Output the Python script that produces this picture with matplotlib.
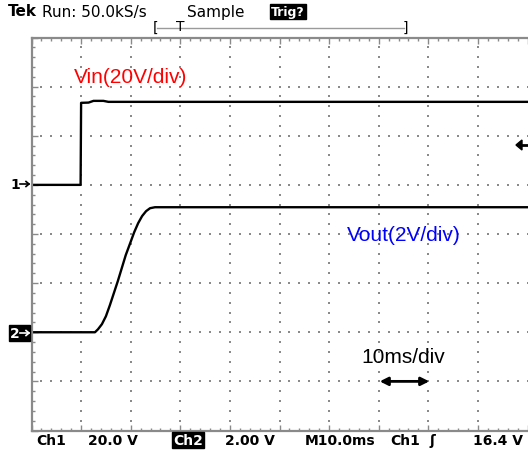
import numpy as np
import matplotlib
matplotlib.use("Agg")
import matplotlib.pyplot as plt

# scope settings
ch1_scale = 20.0   # V/div
ch2_scale = 2.0    # V/div
ch1_offset = 1.0   # div above centre
ch2_offset = -2.0  # div below centre
time_per_div = 10.0  # ms/div

# Vin (ch1) trace, ms / V
t_vin = [0.0, 9.9, 10.0, 11.5, 12.5, 14.5, 15.5, 100.0]
v_vin = [0.0, 0.0, 33.4, 33.5, 34.2, 34.2, 33.8, 33.8]

# Vout (ch2) trace, ms / V
t_vout = [0.0, 12.8, 13.4, 14.2, 15.0, 15.8, 16.6, 17.4, 18.2, 19.0, 19.9,
          20.7, 21.5, 22.3, 23.1, 23.9, 24.9, 100.0]
v_vout = [0.0, 0.0, 0.12, 0.33, 0.65, 1.10, 1.59, 2.08, 2.61, 3.14, 3.63,
          4.07, 4.44, 4.73, 4.93, 5.05, 5.09, 5.09]

W, H = 528, 452
def fx(x):
    return x / W
def fy(y):
    return 1 - y / H

fig = plt.figure(figsize=(W / 100, H / 100), dpi=100)
ax = fig.add_axes([fx(31.5), fy(431.5), 496 / W, 393 / H])
ax.set_xlim(0, 10 * time_per_div)
ax.set_ylim(-4, 4)

grey = "#8a8a8a"
# dotted graticule
for k in range(1, 10):
    yy = np.arange(-4, 4.01, 0.2)
    ax.scatter(np.full_like(yy, k * time_per_div), yy, s=1.2, marker="s", color=grey, lw=0)
for j in range(-3, 4):
    xx = np.arange(0, 100.1, 2.0)
    ax.scatter(xx, np.full_like(xx, j), s=1.2, marker="s", color=grey, lw=0)

# traces
ax.plot(t_vin, ch1_offset + np.array(v_vin) / ch1_scale, color="black", lw=1.7)
ax.plot(t_vout, ch2_offset + np.array(v_vout) / ch2_scale, color="black", lw=1.7)

# frame and tick marks
for s in ["left", "top", "bottom"]:
    ax.spines[s].set_color(grey)
    ax.spines[s].set_linewidth(1.6)
ax.spines["right"].set_visible(False)
ax.set_xticks(np.arange(0, 101, 10))
ax.set_xticks(np.arange(0, 101, 2), minor=True)
ax.set_yticks(np.arange(-4, 5, 1))
ax.set_yticks(np.arange(-4, 4.01, 0.2), minor=True)
ax.tick_params(which="both", direction="in", color=grey, top=True, bottom=True,
               left=True, right=False, labelbottom=False, labelleft=False)
ax.tick_params(which="major", length=4, width=1)
ax.tick_params(which="minor", length=2.5, width=1)

# annotations
ax.text(20.0, 3.2, "Vin(20V/div)", color="red", fontsize=15, family="Liberation Sans",
        ha="center", va="center")
ax.text(75.1, 0.0, "Vout(2V/div)", color="blue", fontsize=15, family="Liberation Sans",
        ha="center", va="center")
ax.text(74.9, -2.5, "10ms/div", color="black", fontsize=15, family="Liberation Sans",
        ha="center", va="center")
ax.annotate("", xy=(70.2, -3.0), xytext=(80.2, -3.0),
            arrowprops=dict(arrowstyle="<|-|>", lw=2, color="black",
                            mutation_scale=12, shrinkA=0, shrinkB=0))

# header
fs = 10
fig.text(fx(8), fy(12), "Tek", fontsize=11, fontweight="bold", va="center")
fig.text(fx(42), fy(12), "Run: 50.0kS/s", fontsize=11, va="center")
fig.text(fx(187), fy(12), "Sample", fontsize=11, va="center")
fig.text(fx(288), fy(12.5), "Trig?", fontsize=fs - 1, fontweight="bold", color="white",
         ha="center", va="center",
         bbox=dict(boxstyle="square,pad=0.1", fc="black", ec="black"))
fig.add_artist(plt.Line2D([fx(157), fx(404)], [fy(28.5), fy(28.5)], color="#9a9a9a", lw=1))
fig.text(fx(155), fy(28), "[", fontsize=fs, va="center", ha="center")
fig.text(fx(405), fy(28), "]", fontsize=fs, va="center", ha="center")
fig.text(fx(180), fy(27), "T", fontsize=fs, va="center", ha="center")

# channel markers
fig.text(fx(15), fy(185), "1", fontsize=fs, fontweight="bold", va="center", ha="center")
fig.add_artist(plt.Line2D([fx(20), fx(29)], [fy(185), fy(185)], color="black", lw=1.2))
fig.add_artist(plt.Line2D([fx(26), fx(29), fx(26)], [fy(182.5), fy(185), fy(187.5)],
                          color="black", lw=1.2))
fig.patches.append(plt.Rectangle((fx(9), fy(342)), 21 / W, 16 / H, color="black",
                                 transform=fig.transFigure, figure=fig))
fig.text(fx(15), fy(334), "2", fontsize=fs, fontweight="bold", color="white",
         va="center", ha="center")
fig.add_artist(plt.Line2D([fx(20), fx(29)], [fy(334), fy(334)], color="white", lw=1.2))
fig.add_artist(plt.Line2D([fx(26), fx(29), fx(26)], [fy(331.5), fy(334), fy(336.5)],
                          color="white", lw=1.2))

# trigger level arrow
fig.add_artist(plt.Line2D([fx(520), fx(528)], [fy(146), fy(146)], color="black", lw=2))
fig.patches.append(plt.Polygon([[fx(516), fy(146)], [fx(522), fy(141)], [fx(522), fy(151)]],
                               closed=True, color="black", transform=fig.transFigure,
                               figure=fig))

# bottom status line
by = fy(441)
fig.text(fx(36), by, "Ch1", fontsize=fs, fontweight="bold", va="center")
fig.text(fx(88), by, "20.0 V", fontsize=fs, fontweight="bold", va="center")
fig.text(fx(188), by, "Ch2", fontsize=fs, fontweight="bold", color="white",
         ha="center", va="center",
         bbox=dict(boxstyle="square,pad=0.1", fc="black", ec="black"))
fig.text(fx(225), by, "2.00 V", fontsize=fs, fontweight="bold", va="center")
fig.text(fx(305), by, "M10.0ms", fontsize=fs, fontweight="bold", va="center")
fig.text(fx(390), by, "Ch1", fontsize=fs, fontweight="bold", va="center")
fig.text(fx(432), by, "\u0283", fontsize=fs, fontweight="bold", va="center", ha="center")
fig.text(fx(473), by, "16.4 V", fontsize=fs, fontweight="bold", va="center")

fig.savefig("out.png", dpi=100)
